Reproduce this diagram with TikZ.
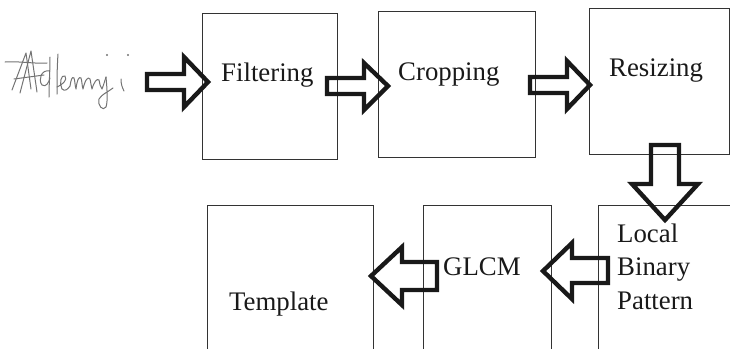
\documentclass[tikz,border=0pt]{standalone}
\usepackage{fontspec}
\setmainfont{Liberation Serif}
\begin{document}
\begin{tikzpicture}[x=1pt,y=-1pt,
  box/.style={draw=black!80, line width=0.9pt, inner sep=0pt, anchor=north west},
  lbl/.style={anchor=base west, inner sep=0pt, font=\fontsize{26.8}{30}\selectfont, text=black!90},
  barrow/.style={draw=black!90, line width=4.4pt, line join=miter, miter limit=10},
  sig/.style={draw=black!55, line width=1pt, line cap=round, line join=round}]
\useasboundingbox (0,0) rectangle (730,348);
\clip (0,0) rectangle (730,348);
% boxes
\node[box, minimum width=135pt, minimum height=146pt] (filt) at (202,13) {};
\node[box, minimum width=157pt, minimum height=146pt] (crop) at (378,11) {};
\node[box, minimum width=140pt, minimum height=146pt] (resz) at (589,8) {};
\node[box, minimum width=166pt, minimum height=200pt] (tmpl) at (207,205) {};
\node[box, minimum width=128pt, minimum height=200pt] (glcm) at (423,205) {};
\node[box, minimum width=160pt, minimum height=200pt] (lbp) at (598,205) {};
% labels
\node[lbl] (tfilt) at (221,81) {Filtering};
\node[lbl] (tcrop) at (398,80) {Cropping};
\node[lbl] (tresz) at (609,76) {Resizing};
\node[lbl] (tglcm) at (443,275) {GLCM};
\node[lbl] (ttmpl) at (229,310) {Template};
\node[lbl] (tlbp1) at (617,242) {Local};
\node[lbl] (tlbp2) at (617,275) {Binary};
\node[lbl] (tlbp3) at (617,309) {Pattern};
% block arrows
\draw[barrow] (147,74) -- (184,74) -- (184,57) -- (208,82) -- (184,107) -- (184,90) -- (147,90) -- cycle;
\draw[barrow] (327,78) -- (364,78) -- (364,63) -- (388,86) -- (364,110) -- (364,94) -- (327,94) -- cycle;
\draw[barrow] (530,77) -- (567,77) -- (567,61) -- (590,85) -- (567,109) -- (567,93) -- (530,93) -- cycle;
\draw[barrow] (651,145) -- (679,145) -- (679,184) -- (698,184) -- (665,220) -- (632,184) -- (651,184) -- cycle;
\draw[barrow] (608,258) -- (572,258) -- (572,243) -- (543,271) -- (572,299) -- (572,283) -- (608,283) -- cycle;
\draw[barrow] (437,262) -- (402,262) -- (402,247) -- (371,276) -- (402,305) -- (402,290) -- (437,290) -- cycle;
% signature
\draw[sig] (5,62) .. controls (20,61) and (35,64) .. (47,63);
\draw[sig] (12,90) -- (26,53) -- (31,89);
\draw[sig] (20,93) -- (31,51) -- (37,92);
\draw[sig] (14,79) -- (44,75);
\draw[sig] (50,57) .. controls (50,70) and (49,85) .. (49,97);
\draw[sig] (50,71) .. controls (41,69) and (38,80) .. (42,85) .. controls (46,88) and (49,82) .. (50,78);
\draw[sig] (58,54) .. controls (57,68) and (57,82) .. (57,94);
\draw[sig] (57,87) .. controls (62,85) and (68,80) .. (65,76) .. controls (61,74) and (59,84) .. (62,89) .. controls (65,92) and (68,89) .. (70,86);
\draw[sig] (70,86) .. controls (71,80) and (72,76) .. (74,78) .. controls (75,81) and (75,86) .. (76,89)
  .. controls (77,80) and (79,76) .. (81,78) .. controls (82,81) and (82,86) .. (83,89)
  .. controls (85,80) and (88,76) .. (90,79) .. controls (91,83) and (91,86) .. (92,89)
  .. controls (94,82) and (97,78) .. (99,80) .. controls (100,84) and (100,87) .. (102,89)
  .. controls (104,84) and (105,80) .. (106,77);
\draw[sig] (106,77) .. controls (107,88) and (108,101) .. (106,107) .. controls (103,112) and (97,105) .. (99,99) .. controls (102,94) and (108,92) .. (113,88);
\draw[sig] (121,79) .. controls (121,84) and (122,87) .. (124,91);
\fill[black!55] (107,55) circle (1.1);
\fill[black!55] (128,55) circle (1.1);
\end{tikzpicture}
\end{document}
